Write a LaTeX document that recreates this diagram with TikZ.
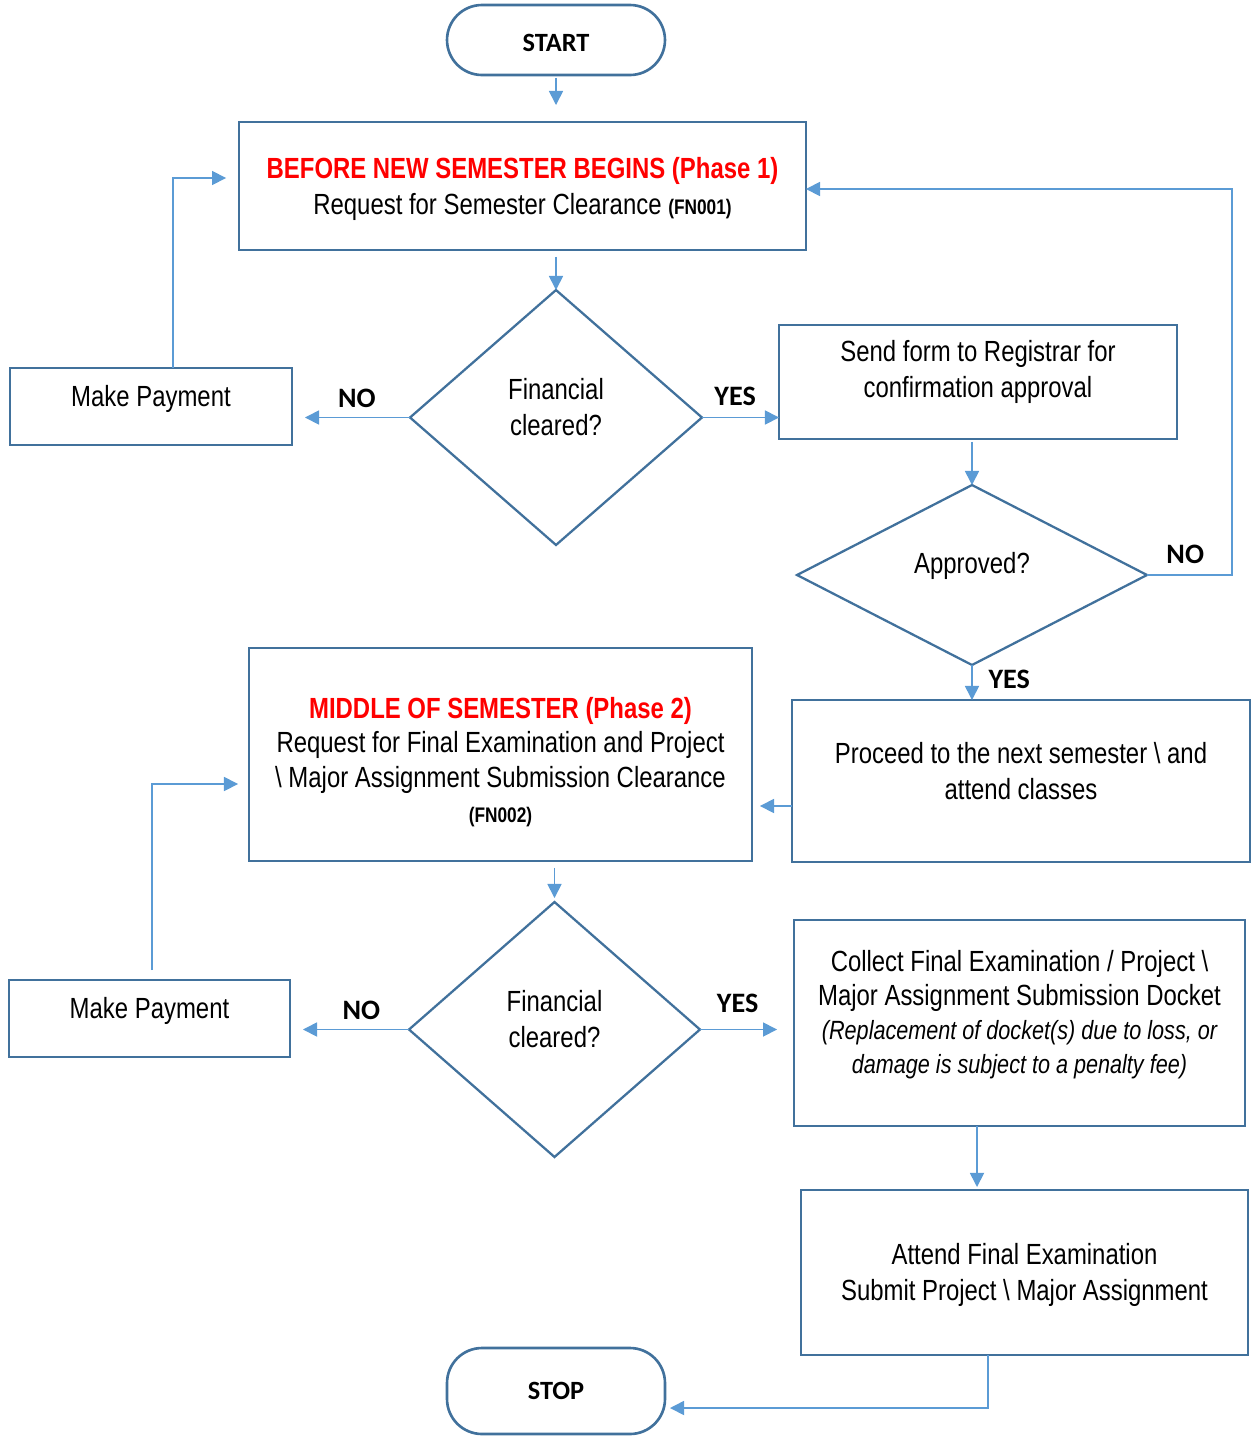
\documentclass[tikz,border=0pt]{standalone}
\usepackage{fontspec}
\setmainfont{Liberation Sans}[FakeStretch=0.82]
\newfontfamily\lblfont{Carlito}
\usepackage{tikz}
\usetikzlibrary{calc,arrows.meta,shapes.geometric}
\definecolor{edge}{HTML}{41719C}
\definecolor{link}{HTML}{5B9BD5}
\definecolor{phase}{HTML}{FF0000}
\tikzset{
  box/.style={draw=edge, line width=1.5pt, rectangle, inner sep=0pt, outer sep=0pt},
  term/.style={box, rounded corners=0.7cm, font=\lblfont\bfseries\fontsize{15}{18}\selectfont},
  dec/.style={draw=edge, line width=1.3pt, diamond, inner sep=0pt, outer sep=0pt},
  pay/.style={box, text height=0.3cm, text depth=0.3cm, font=\fontsize{16.6}{19.5}\selectfont},
  txt/.style={align=center, inner sep=0pt, text=black, font=\fontsize{16.6}{20}\selectfont},
  head/.style={txt, text=phase, font=\fontsize{16.6}{20}\selectfont\bfseries},
  arr/.style={draw=link, line width=0.9pt, -{Triangle[length=8pt,width=8pt]}},
  lbl/.style={font=\lblfont\bfseries\fontsize{16}{19}\selectfont, inner sep=1pt},
}
\newcommand{\formno}[1]{{\fontsize{12}{14}\selectfont\bfseries #1}}
\newcommand{\notetxt}[1]{{\fontsize{15}{19.5}\selectfont\itshape #1}}

\begin{document}
\begin{tikzpicture}[x=0.02cm, y=-0.02cm]
  \useasboundingbox (0,0) rectangle (1254,1437);

  % phase 1
  \node[term, minimum width=4.36cm, minimum height=1.4cm] (start) at (556,40) {};
  \node[txt, font=\lblfont\bfseries\fontsize{15}{18}\selectfont] (starttxt) at (556,43) {START};
  \node[box, minimum width=11.34cm, minimum height=2.56cm] (before) at (522.5,186) {};
  \node[head] (beforehead) at (522.5,171) {BEFORE NEW SEMESTER BEGINS (Phase 1)};
  \node[txt] (beforetxt) at (522.5,207) {Request for Semester Clearance \formno{(FN001)}};
  \node[dec, minimum width=5.84cm, minimum height=5.1cm] (fin1) at (556,417.5) {};
  \node[txt] (fin1txt) at (556,407) {Financial\\cleared?};
  \node[pay, minimum width=5.64cm, minimum height=1.54cm] (pay1) at (151,406.5) {Make Payment};
  \node[box, minimum width=7.96cm, minimum height=2.28cm] (send) at (978,382) {};
  \node[txt] (sendtxt) at (978,372) {Send form to Registrar for\\confirmation approval};
  \node[dec, minimum width=7cm, minimum height=3.6cm] (appr) at (972,575) {};
  \node[txt] (apprtxt) at (972,566) {Approved?};
  \node[box, minimum width=9.16cm, minimum height=3.24cm] (next) at (1021,781) {};
  \node[txt] (nexttxt) at (1021,771) {Proceed to the next semester \textbackslash{} and\\attend classes};

  % phase 2
  \node[box, minimum width=10.06cm, minimum height=4.26cm] (middle) at (500.5,754.5) {};
  \node[head] (middlehead) at (500.5,711) {MIDDLE OF SEMESTER (Phase 2)};
  \node[txt] (middletxt) at (500.5,779) {Request for Final Examination and Project\\\textbackslash{} Major Assignment Submission Clearance\\\formno{(FN002)}};
  \node[dec, minimum width=5.82cm, minimum height=5.1cm] (fin2) at (554.5,1029.5) {};
  \node[txt] (fin2txt) at (554.5,1019) {Financial\\cleared?};
  \node[pay, minimum width=5.62cm, minimum height=1.54cm] (pay2) at (149.5,1018.5) {Make Payment};
  \node[box, minimum width=9.02cm, minimum height=4.12cm] (docket) at (1019.5,1023) {};
  \node[txt, font=\fontsize{16.6}{19.3}\selectfont] (dockettxt) at (1019.5,1015) {Collect Final Examination / Project \textbackslash\\Major Assignment Submission Docket\\\notetxt{(Replacement of docket(s) due to loss, or}\\\notetxt{damage is subject to a penalty fee)}};
  \node[box, minimum width=8.94cm, minimum height=3.3cm] (attend) at (1024.5,1272.5) {};
  \node[txt] (attendtxt) at (1024.5,1275) {Attend Final Examination\\Submit Project \textbackslash{} Major Assignment};
  \node[term, minimum width=4.36cm, minimum height=1.72cm] (stop) at (556,1391) {STOP};

  \coordinate (payturn1) at (173,178);
  \coordinate (backup) at (1232,189);
  \coordinate (payturn2) at (152,784);
  \coordinate (stopturn) at (988,1408);

  % connectors
  \draw[arr, shorten <=0.06cm, shorten >=0.34cm] (start.south) -- (start.south |- before.north);
  \draw[arr, shorten <=0.14cm] (before.south -| fin1.north) -- (fin1.north);
  \draw[arr, shorten >=0.26cm] (fin1.west) -- node[lbl, above=4pt, pos=0.45] (no1) {NO} (fin1.west -| pay1.east);
  \draw[arr] (fin1.east) -- node[lbl, above=5pt, pos=0.43] (yes1) {YES} (fin1.east -| send.west);
  \draw[arr, shorten >=0.26cm] (pay1.north -| payturn1) |- (payturn1 -| before.west);
  \draw[arr, shorten <=0.06cm] (send.south -| appr.north) -- (appr.north);
  \draw[arr] (appr.east) -- node[lbl, above=5pt, pos=0.45] (no2) {NO} (appr.east -| backup) -- (backup) -- (backup -| before.east);
  \draw[arr] (appr.south) -- node[lbl, right=8pt, pos=0.4] (yes2) {YES} (appr.south |- next.north);
  \draw[arr, shorten >=0.16cm] ([yshift=-0.5cm]next.west) -- ([yshift=-0.5cm]next.west -| middle.east);
  \draw[arr, shorten <=0.14cm, shorten >=0.08cm] (middle.south -| fin2.north) -- (fin2.north);
  \draw[arr, shorten >=0.26cm] (fin2.west) -- node[lbl, above=4pt, pos=0.4] (no3) {NO} (fin2.west -| pay2.east);
  \draw[arr, shorten >=0.34cm] (fin2.east) -- node[lbl, above=8pt, pos=0.4] (yes3) {YES} (fin2.east -| docket.west);
  \draw[arr, shorten <=0.2cm, shorten >=0.22cm] (pay2.north -| payturn2) |- (payturn2 -| middle.west);
  \draw[arr, shorten >=0.06cm] ([xshift=-0.85cm]docket.south) -- ([xshift=-0.85cm]docket.south |- attend.north);
  \draw[arr, shorten >=0.1cm] (attend.south -| stopturn) |- (stopturn -| stop.east);
\end{tikzpicture}
\end{document}
